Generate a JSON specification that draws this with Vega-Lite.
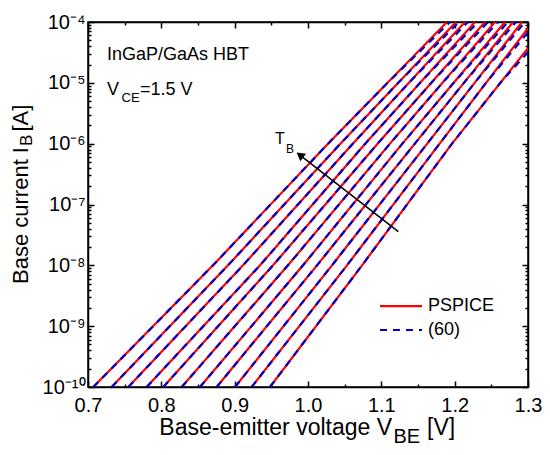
{
  "$schema": "https://vega.github.io/schema/vega-lite/v6.json",
  "width": 440,
  "height": 365,
  "autosize": {"type": "none"},
  "padding": {"left": 88, "top": 22, "right": 22, "bottom": 68},
  "background": "white",
  "config": {
    "font": "Liberation Sans",
    "view": {"stroke": "black", "strokeWidth": 1.5},
    "axis": {
      "grid": false,
      "domainColor": "black",
      "domainWidth": 1.5,
      "tickColor": "black",
      "tickWidth": 1.5,
      "labelColor": "black",
      "labelFont": "Liberation Sans",
      "labelFontSize": 20
    },
    "text": {"font": "Liberation Sans", "color": "black"}
  },
  "datasets": {
    "curves": [
      {"c": 0, "model": "PSPICE", "v": 0.7072, "ib": 1e-10},
      {"c": 0, "model": "PSPICE", "v": 0.8705, "ib": 1e-8},
      {"c": 0, "model": "PSPICE", "v": 1.0273, "ib": 1e-6},
      {"c": 0, "model": "PSPICE", "v": 1.1085, "ib": 1e-5},
      {"c": 0, "model": "PSPICE", "v": 1.1896, "ib": 1e-4},
      {"c": 1, "model": "PSPICE", "v": 0.7323, "ib": 1e-10},
      {"c": 1, "model": "PSPICE", "v": 0.8909, "ib": 1e-8},
      {"c": 1, "model": "PSPICE", "v": 1.0442, "ib": 1e-6},
      {"c": 1, "model": "PSPICE", "v": 1.1231, "ib": 1e-5},
      {"c": 1, "model": "PSPICE", "v": 1.2019, "ib": 1e-4},
      {"c": 2, "model": "PSPICE", "v": 0.7550, "ib": 1e-10},
      {"c": 2, "model": "PSPICE", "v": 0.9114, "ib": 1e-8},
      {"c": 2, "model": "PSPICE", "v": 1.0611, "ib": 1e-6},
      {"c": 2, "model": "PSPICE", "v": 1.1376, "ib": 1e-5},
      {"c": 2, "model": "PSPICE", "v": 1.2141, "ib": 1e-4},
      {"c": 3, "model": "PSPICE", "v": 0.7800, "ib": 1e-10},
      {"c": 3, "model": "PSPICE", "v": 0.9346, "ib": 1e-8},
      {"c": 3, "model": "PSPICE", "v": 1.0780, "ib": 1e-6},
      {"c": 3, "model": "PSPICE", "v": 1.1529, "ib": 1e-5},
      {"c": 3, "model": "PSPICE", "v": 1.2278, "ib": 1e-4},
      {"c": 4, "model": "PSPICE", "v": 0.8027, "ib": 1e-10},
      {"c": 4, "model": "PSPICE", "v": 0.9523, "ib": 1e-8},
      {"c": 4, "model": "PSPICE", "v": 1.0949, "ib": 1e-6},
      {"c": 4, "model": "PSPICE", "v": 1.1682, "ib": 1e-5},
      {"c": 4, "model": "PSPICE", "v": 1.2414, "ib": 1e-4},
      {"c": 5, "model": "PSPICE", "v": 0.8278, "ib": 1e-10},
      {"c": 5, "model": "PSPICE", "v": 0.9727, "ib": 1e-8},
      {"c": 5, "model": "PSPICE", "v": 1.1118, "ib": 1e-6},
      {"c": 5, "model": "PSPICE", "v": 1.1834, "ib": 1e-5},
      {"c": 5, "model": "PSPICE", "v": 1.2550, "ib": 1e-4},
      {"c": 6, "model": "PSPICE", "v": 0.8527, "ib": 1e-10},
      {"c": 6, "model": "PSPICE", "v": 0.9932, "ib": 1e-8},
      {"c": 6, "model": "PSPICE", "v": 1.1287, "ib": 1e-6},
      {"c": 6, "model": "PSPICE", "v": 1.1987, "ib": 1e-5},
      {"c": 6, "model": "PSPICE", "v": 1.2686, "ib": 1e-4},
      {"c": 7, "model": "PSPICE", "v": 0.8755, "ib": 1e-10},
      {"c": 7, "model": "PSPICE", "v": 1.0123, "ib": 1e-8},
      {"c": 7, "model": "PSPICE", "v": 1.1457, "ib": 1e-6},
      {"c": 7, "model": "PSPICE", "v": 1.2126, "ib": 1e-5},
      {"c": 7, "model": "PSPICE", "v": 1.2795, "ib": 1e-4},
      {"c": 8, "model": "PSPICE", "v": 0.9005, "ib": 1e-10},
      {"c": 8, "model": "PSPICE", "v": 1.0327, "ib": 1e-8},
      {"c": 8, "model": "PSPICE", "v": 1.1626, "ib": 1e-6},
      {"c": 8, "model": "PSPICE", "v": 1.2272, "ib": 1e-5},
      {"c": 8, "model": "PSPICE", "v": 1.2918, "ib": 1e-4},
      {"c": 9, "model": "PSPICE", "v": 0.9232, "ib": 1e-10},
      {"c": 9, "model": "PSPICE", "v": 1.0532, "ib": 1e-8},
      {"c": 9, "model": "PSPICE", "v": 1.1795, "ib": 1e-6},
      {"c": 9, "model": "PSPICE", "v": 1.2428, "ib": 1e-5},
      {"c": 9, "model": "PSPICE", "v": 1.3, "ib": 7.9e-5},
      {"c": 10, "model": "PSPICE", "v": 0.9482, "ib": 1e-10},
      {"c": 10, "model": "PSPICE", "v": 1.0737, "ib": 1e-8},
      {"c": 10, "model": "PSPICE", "v": 1.1964, "ib": 1e-6},
      {"c": 10, "model": "PSPICE", "v": 1.2623, "ib": 1e-5},
      {"c": 10, "model": "PSPICE", "v": 1.3, "ib": 3.7e-5},
      {"c": 0, "model": "(60)", "v": 0.7072, "ib": 1e-10},
      {"c": 0, "model": "(60)", "v": 0.8705, "ib": 1e-8},
      {"c": 0, "model": "(60)", "v": 1.0273, "ib": 1e-6},
      {"c": 0, "model": "(60)", "v": 1.1085, "ib": 1e-5},
      {"c": 0, "model": "(60)", "v": 1.1936, "ib": 1e-4},
      {"c": 1, "model": "(60)", "v": 0.7323, "ib": 1e-10},
      {"c": 1, "model": "(60)", "v": 0.8909, "ib": 1e-8},
      {"c": 1, "model": "(60)", "v": 1.0442, "ib": 1e-6},
      {"c": 1, "model": "(60)", "v": 1.1231, "ib": 1e-5},
      {"c": 1, "model": "(60)", "v": 1.2059, "ib": 1e-4},
      {"c": 2, "model": "(60)", "v": 0.7550, "ib": 1e-10},
      {"c": 2, "model": "(60)", "v": 0.9114, "ib": 1e-8},
      {"c": 2, "model": "(60)", "v": 1.0611, "ib": 1e-6},
      {"c": 2, "model": "(60)", "v": 1.1376, "ib": 1e-5},
      {"c": 2, "model": "(60)", "v": 1.2181, "ib": 1e-4},
      {"c": 3, "model": "(60)", "v": 0.7800, "ib": 1e-10},
      {"c": 3, "model": "(60)", "v": 0.9346, "ib": 1e-8},
      {"c": 3, "model": "(60)", "v": 1.0780, "ib": 1e-6},
      {"c": 3, "model": "(60)", "v": 1.1529, "ib": 1e-5},
      {"c": 3, "model": "(60)", "v": 1.2318, "ib": 1e-4},
      {"c": 4, "model": "(60)", "v": 0.8027, "ib": 1e-10},
      {"c": 4, "model": "(60)", "v": 0.9523, "ib": 1e-8},
      {"c": 4, "model": "(60)", "v": 1.0949, "ib": 1e-6},
      {"c": 4, "model": "(60)", "v": 1.1682, "ib": 1e-5},
      {"c": 4, "model": "(60)", "v": 1.2454, "ib": 1e-4},
      {"c": 5, "model": "(60)", "v": 0.8278, "ib": 1e-10},
      {"c": 5, "model": "(60)", "v": 0.9727, "ib": 1e-8},
      {"c": 5, "model": "(60)", "v": 1.1118, "ib": 1e-6},
      {"c": 5, "model": "(60)", "v": 1.1834, "ib": 1e-5},
      {"c": 5, "model": "(60)", "v": 1.2590, "ib": 1e-4},
      {"c": 6, "model": "(60)", "v": 0.8527, "ib": 1e-10},
      {"c": 6, "model": "(60)", "v": 0.9932, "ib": 1e-8},
      {"c": 6, "model": "(60)", "v": 1.1287, "ib": 1e-6},
      {"c": 6, "model": "(60)", "v": 1.1987, "ib": 1e-5},
      {"c": 6, "model": "(60)", "v": 1.2726, "ib": 1e-4},
      {"c": 7, "model": "(60)", "v": 0.8755, "ib": 1e-10},
      {"c": 7, "model": "(60)", "v": 1.0123, "ib": 1e-8},
      {"c": 7, "model": "(60)", "v": 1.1457, "ib": 1e-6},
      {"c": 7, "model": "(60)", "v": 1.2126, "ib": 1e-5},
      {"c": 7, "model": "(60)", "v": 1.2835, "ib": 1e-4},
      {"c": 8, "model": "(60)", "v": 0.9005, "ib": 1e-10},
      {"c": 8, "model": "(60)", "v": 1.0327, "ib": 1e-8},
      {"c": 8, "model": "(60)", "v": 1.1626, "ib": 1e-6},
      {"c": 8, "model": "(60)", "v": 1.2272, "ib": 1e-5},
      {"c": 8, "model": "(60)", "v": 1.2958, "ib": 1e-4},
      {"c": 9, "model": "(60)", "v": 0.9232, "ib": 1e-10},
      {"c": 9, "model": "(60)", "v": 1.0532, "ib": 1e-8},
      {"c": 9, "model": "(60)", "v": 1.1795, "ib": 1e-6},
      {"c": 9, "model": "(60)", "v": 1.2428, "ib": 1e-5},
      {"c": 9, "model": "(60)", "v": 1.3, "ib": 6.8e-5},
      {"c": 10, "model": "(60)", "v": 0.9482, "ib": 1e-10},
      {"c": 10, "model": "(60)", "v": 1.0737, "ib": 1e-8},
      {"c": 10, "model": "(60)", "v": 1.1964, "ib": 1e-6},
      {"c": 10, "model": "(60)", "v": 1.2623, "ib": 1e-5},
      {"c": 10, "model": "(60)", "v": 1.3, "ib": 3.2e-5}
    ]
  },
  "layer": [
    {
      "data": {"name": "curves"},
      "transform": [{"filter": "datum.model == 'PSPICE'"}],
      "mark": {"type": "line", "color": "#ff0000", "strokeWidth": 2.2, "clip": true},
      "encoding": {
        "x": {
          "field": "v", "type": "quantitative",
          "scale": {"domain": [0.7, 1.3], "nice": false, "zero": false},
          "axis": {
            "orient": "bottom", "title": null,
            "values": [0.7, 0.75, 0.8, 0.85, 0.9, 0.95, 1.0, 1.05, 1.1, 1.15, 1.2, 1.25, 1.3],
            "labelExpr": "abs(datum.value*10 - round(datum.value*10)) < 0.01 ? format(datum.value, '.1f') : ''",
            "tickSize": {"condition": {"test": "abs(datum.value*10 - round(datum.value*10)) < 0.01", "value": -6}, "value": -3},
            "labelPadding": 14, "labelFlush": false, "labelOverlap": false, "labelBound": false
          }
        },
        "y": {
          "field": "ib", "type": "quantitative",
          "scale": {"type": "log", "domain": [1e-10, 1e-4], "nice": false},
          "axis": {
            "orient": "left", "title": null,
            "values": [1e-10,2e-10,3e-10,4e-10,5e-10,6e-10,7e-10,8e-10,9e-10,1e-9,2e-9,3e-9,4e-9,5e-9,6e-9,7e-9,8e-9,9e-9,1e-8,2e-8,3e-8,4e-8,5e-8,6e-8,7e-8,8e-8,9e-8,1e-7,2e-7,3e-7,4e-7,5e-7,6e-7,7e-7,8e-7,9e-7,1e-6,2e-6,3e-6,4e-6,5e-6,6e-6,7e-6,8e-6,9e-6,1e-5,2e-5,3e-5,4e-5,5e-5,6e-5,7e-5,8e-5,9e-5,1e-4],
            "labelExpr": "abs(log(datum.value)/LN10 - round(log(datum.value)/LN10)) < 0.001 ? '10⁻' + (round(-log(datum.value)/LN10) == 10 ? '¹⁰' : ['⁰','¹','²','³','⁴','⁵','⁶','⁷','⁸','⁹'][round(-log(datum.value)/LN10)]) : ''",
            "tickSize": {"condition": {"test": "abs(log(datum.value)/LN10 - round(log(datum.value)/LN10)) < 0.001", "value": -6}, "value": -3},
            "labelPadding": 9, "labelFlush": false, "labelOverlap": false, "labelBound": false
          }
        },
        "detail": {"field": "c", "type": "nominal"}
      }
    },
    {
      "data": {"name": "curves"},
      "transform": [{"filter": "datum.model == '(60)'"}],
      "mark": {"type": "line", "color": "#0000cc", "strokeWidth": 2.2, "strokeDash": [7, 6], "clip": true},
      "encoding": {
        "x": {
          "field": "v", "type": "quantitative",
          "scale": {"domain": [0.7, 1.3], "nice": false, "zero": false},
          "axis": {
            "orient": "top", "title": null, "labels": false,
            "values": [0.7, 0.75, 0.8, 0.85, 0.9, 0.95, 1.0, 1.05, 1.1, 1.15, 1.2, 1.25, 1.3],
            "tickSize": {"condition": {"test": "abs(datum.value*10 - round(datum.value*10)) < 0.01", "value": -6}, "value": -3}
          }
        },
        "y": {
          "field": "ib", "type": "quantitative",
          "scale": {"type": "log", "domain": [1e-10, 1e-4], "nice": false},
          "axis": {
            "orient": "right", "title": null, "labels": false,
            "values": [1e-10,2e-10,3e-10,4e-10,5e-10,6e-10,7e-10,8e-10,9e-10,1e-9,2e-9,3e-9,4e-9,5e-9,6e-9,7e-9,8e-9,9e-9,1e-8,2e-8,3e-8,4e-8,5e-8,6e-8,7e-8,8e-8,9e-8,1e-7,2e-7,3e-7,4e-7,5e-7,6e-7,7e-7,8e-7,9e-7,1e-6,2e-6,3e-6,4e-6,5e-6,6e-6,7e-6,8e-6,9e-6,1e-5,2e-5,3e-5,4e-5,5e-5,6e-5,7e-5,8e-5,9e-5,1e-4],
            "tickSize": {"condition": {"test": "abs(log(datum.value)/LN10 - round(log(datum.value)/LN10)) < 0.001", "value": -6}, "value": -3}
          }
        },
        "detail": {"field": "c", "type": "nominal"}
      }
    },
    {
      "data": {"values": [{}]},
      "mark": {"type": "rule", "color": "black", "strokeWidth": 1.5},
      "encoding": {
        "x": {"datum": 1.1232, "type": "quantitative", "axis": null},
        "x2": {"datum": 0.9890},
        "y": {"datum": 3.57e-8, "type": "quantitative", "axis": null, "scale": {"type": "log"}},
        "y2": {"datum": 6.49e-7}
      }
    },
    {
      "data": {"values": [{}]},
      "mark": {"type": "point", "shape": "triangle-up", "filled": true, "color": "black", "opacity": 1, "size": 90, "angle": 307.9},
      "encoding": {
        "x": {"datum": 0.9890, "type": "quantitative", "axis": null},
        "y": {"datum": 6.49e-7, "type": "quantitative", "axis": null, "scale": {"type": "log"}}
      }
    },
    {
      "data": {"values": [{}]},
      "mark": {"type": "text", "text": "T", "fontSize": 16, "align": "center", "baseline": "middle"},
      "encoding": {
        "x": {"datum": 0.9618, "type": "quantitative", "axis": null},
        "y": {"datum": 1.194e-6, "type": "quantitative", "axis": null, "scale": {"type": "log"}}
      }
    },
    {
      "data": {"values": [{}]},
      "mark": {"type": "text", "text": "B", "fontSize": 12, "align": "center", "baseline": "middle"},
      "encoding": {
        "x": {"datum": 0.9755, "type": "quantitative", "axis": null},
        "y": {"datum": 8.16e-7, "type": "quantitative", "axis": null, "scale": {"type": "log"}}
      }
    },
    {
      "data": {"values": [{}]},
      "mark": {"type": "text", "text": "InGaP/GaAs HBT", "fontSize": 18, "align": "left", "baseline": "alphabetic"},
      "encoding": {
        "x": {"datum": 0.7259, "type": "quantitative", "axis": null},
        "y": {"datum": 2.373e-5, "type": "quantitative", "axis": null, "scale": {"type": "log"}}
      }
    },
    {
      "data": {"values": [{}]},
      "mark": {"type": "text", "text": "V", "fontSize": 18, "align": "left", "baseline": "alphabetic"},
      "encoding": {
        "x": {"datum": 0.7259, "type": "quantitative", "axis": null},
        "y": {"datum": 6.31e-6, "type": "quantitative", "axis": null, "scale": {"type": "log"}}
      }
    },
    {
      "data": {"values": [{}]},
      "mark": {"type": "text", "text": "CE", "fontSize": 13, "align": "left", "baseline": "alphabetic"},
      "encoding": {
        "x": {"datum": 0.7457, "type": "quantitative", "axis": null},
        "y": {"datum": 4.84e-6, "type": "quantitative", "axis": null, "scale": {"type": "log"}}
      }
    },
    {
      "data": {"values": [{}]},
      "mark": {"type": "text", "text": "=1.5 V", "fontSize": 18, "align": "left", "baseline": "alphabetic"},
      "encoding": {
        "x": {"datum": 0.7709, "type": "quantitative", "axis": null},
        "y": {"datum": 6.31e-6, "type": "quantitative", "axis": null, "scale": {"type": "log"}}
      }
    },
    {
      "data": {"values": [{}]},
      "mark": {"type": "rule", "color": "#ff0000", "strokeWidth": 2.2},
      "encoding": {
        "x": {"datum": 1.0982, "type": "quantitative", "axis": null},
        "x2": {"datum": 1.1555},
        "y": {"datum": 2.14e-9, "type": "quantitative", "axis": null, "scale": {"type": "log"}}
      }
    },
    {
      "data": {"values": [{}]},
      "mark": {"type": "rule", "color": "#0000cc", "strokeWidth": 2.2, "strokeDash": [7, 6]},
      "encoding": {
        "x": {"datum": 1.0982, "type": "quantitative", "axis": null},
        "x2": {"datum": 1.1555},
        "y": {"datum": 8.65e-10, "type": "quantitative", "axis": null, "scale": {"type": "log"}}
      }
    },
    {
      "data": {"values": [{}]},
      "mark": {"type": "text", "text": "PSPICE", "fontSize": 18, "align": "left", "baseline": "middle"},
      "encoding": {
        "x": {"datum": 1.1637, "type": "quantitative", "axis": null},
        "y": {"datum": 2.14e-9, "type": "quantitative", "axis": null, "scale": {"type": "log"}}
      }
    },
    {
      "data": {"values": [{}]},
      "mark": {"type": "text", "text": "(60)", "fontSize": 18, "align": "left", "baseline": "middle"},
      "encoding": {
        "x": {"datum": 1.1637, "type": "quantitative", "axis": null},
        "y": {"datum": 8.65e-10, "type": "quantitative", "axis": null, "scale": {"type": "log"}}
      }
    },
    {
      "data": {"values": [{}]},
      "mark": {"type": "text", "text": "Base-emitter voltage V", "fontSize": 23, "align": "right", "baseline": "alphabetic"},
      "encoding": {
        "x": {"datum": 1.1146, "type": "quantitative", "axis": null},
        "y": {"datum": 1.625e-11, "type": "quantitative", "axis": null, "scale": {"type": "log"}}
      }
    },
    {
      "data": {"values": [{}]},
      "mark": {"type": "text", "text": "BE", "fontSize": 20, "align": "left", "baseline": "alphabetic"},
      "encoding": {
        "x": {"datum": 1.1166, "type": "quantitative", "axis": null},
        "y": {"datum": 1.2e-11, "type": "quantitative", "axis": null, "scale": {"type": "log"}}
      }
    },
    {
      "data": {"values": [{}]},
      "mark": {"type": "text", "text": "[V]", "fontSize": 23, "align": "left", "baseline": "alphabetic"},
      "encoding": {
        "x": {"datum": 1.1623, "type": "quantitative", "axis": null},
        "y": {"datum": 1.625e-11, "type": "quantitative", "axis": null, "scale": {"type": "log"}}
      }
    },
    {
      "data": {"values": [{}]},
      "mark": {"type": "text", "text": "Base current I", "fontSize": 22, "angle": 270, "align": "right", "baseline": "alphabetic"},
      "encoding": {
        "x": {"datum": 0.6182, "type": "quantitative", "axis": null},
        "y": {"datum": 8.81e-7, "type": "quantitative", "axis": null, "scale": {"type": "log"}}
      }
    },
    {
      "data": {"values": [{}]},
      "mark": {"type": "text", "text": "B", "fontSize": 17, "angle": 270, "align": "left", "baseline": "alphabetic"},
      "encoding": {
        "x": {"datum": 0.6236, "type": "quantitative", "axis": null},
        "y": {"datum": 9.15e-7, "type": "quantitative", "axis": null, "scale": {"type": "log"}}
      }
    },
    {
      "data": {"values": [{}]},
      "mark": {"type": "text", "text": "[A]", "fontSize": 22, "angle": 270, "align": "left", "baseline": "alphabetic"},
      "encoding": {
        "x": {"datum": 0.6182, "type": "quantitative", "axis": null},
        "y": {"datum": 1.585e-6, "type": "quantitative", "axis": null, "scale": {"type": "log"}}
      }
    }
  ],
  "resolve": {"axis": {"x": "independent", "y": "independent"}}
}
